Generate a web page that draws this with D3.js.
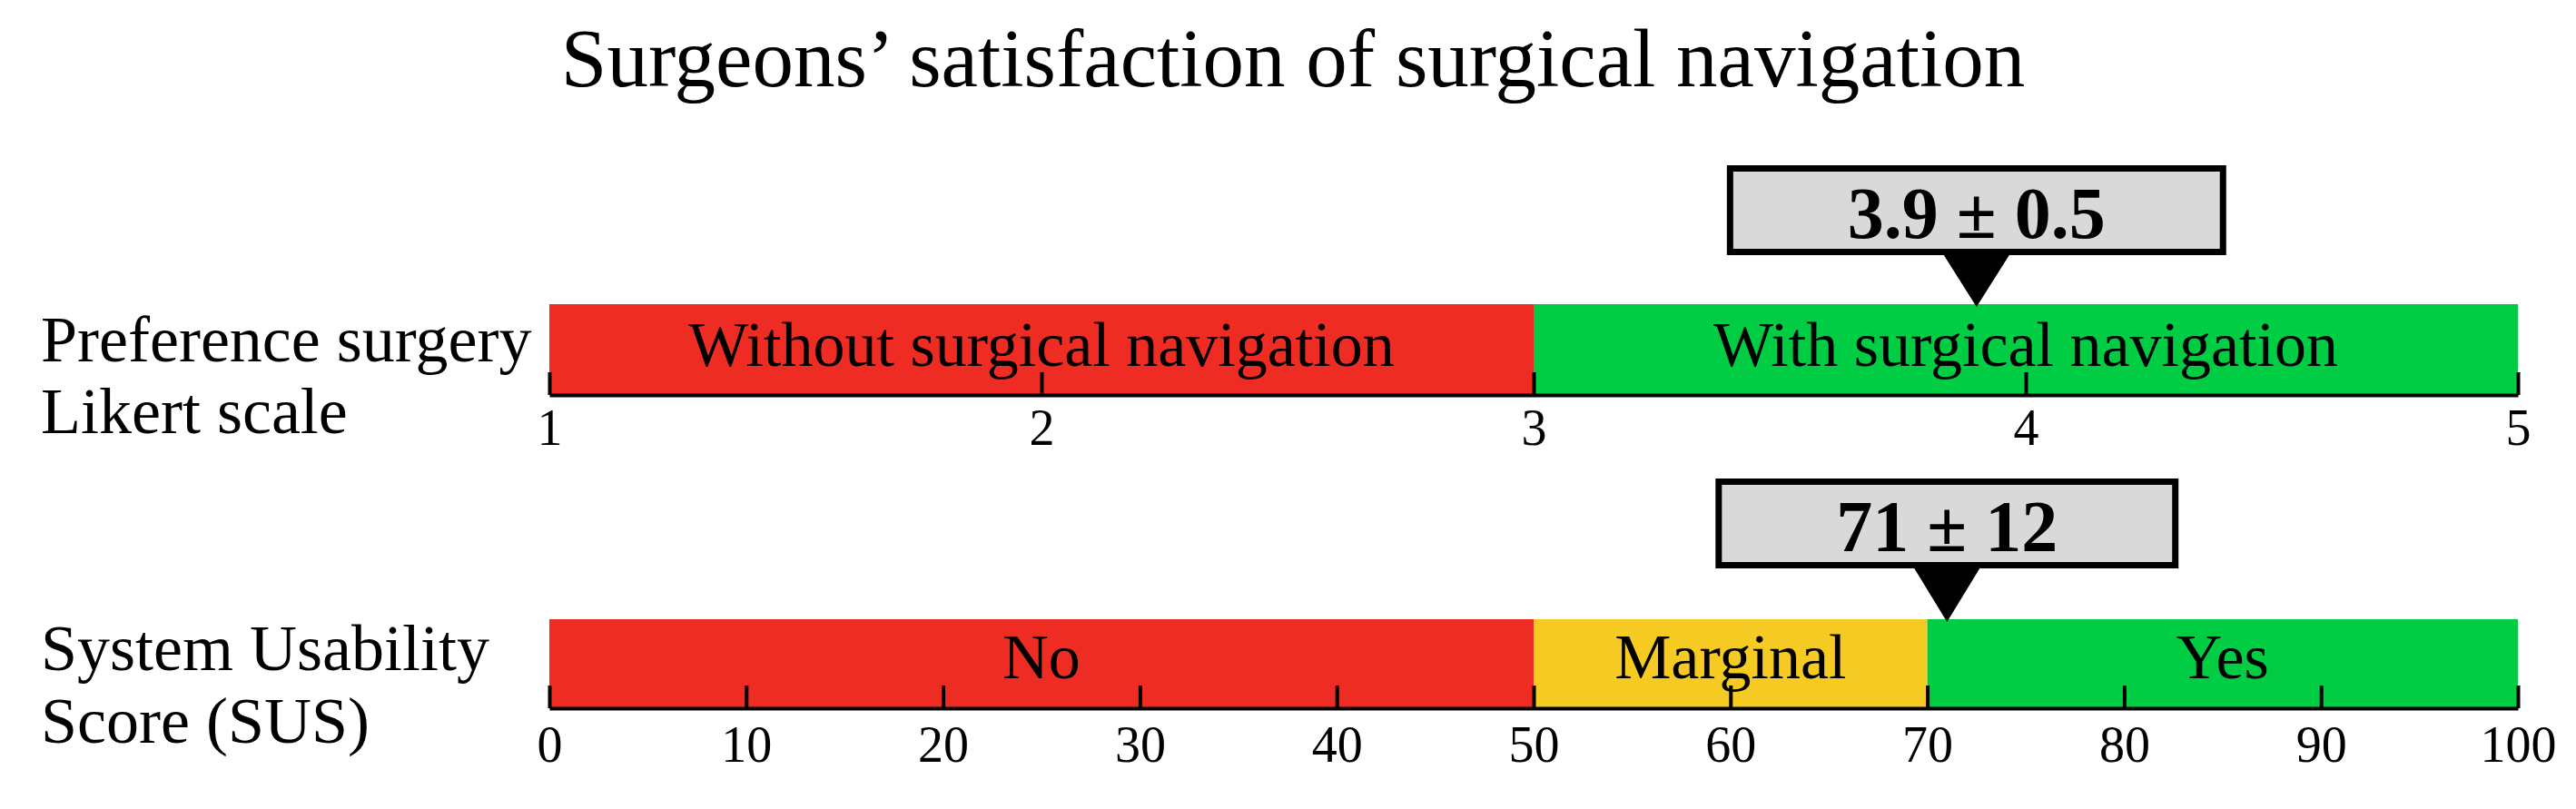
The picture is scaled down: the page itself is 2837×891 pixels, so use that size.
<!DOCTYPE html>
<html><head><meta charset="utf-8">
<script src="https://cdn.jsdelivr.net/npm/d3@7"></script>
<style>body{margin:0;background:#fff}svg{display:block}</style>
</head><body>
<svg id="chart" width="2837" height="891"></svg>
<script>
// ---- data ----
const titleText = "Surgeons’ satisfaction of surgical navigation";
const likertRowLabel = ["Preference surgery", "Likert scale"];
const susRowLabel = ["System Usability", "Score (SUS)"];

const likertCategories = ["Without surgical navigation", "With surgical navigation"];
const likertStarts = [1, 3];
const likertEnds = [3, 5];
const likertTicks = [1, 2, 3, 4, 5];
const likertMean = 3.9;
const likertSD = 0.5;

const susCategories = ["No", "Marginal", "Yes"];
const susStarts = [0, 50, 70];
const susEnds = [50, 70, 100];
const susTicks = [0, 10, 20, 30, 40, 50, 60, 70, 80, 90, 100];
const susMean = 71;
const susSD = 12;

// ---- style ----
const RED = "#EE2C24", GREEN = "#00CC44", YELLOW = "#F5CA22", BOXGRAY = "#D9D9D9";
const FONT = "'Liberation Serif', 'Times New Roman', serif";
const W = 2837, H = 891;
const svg = d3.select("#chart");
svg.append("rect").attr("width", W).attr("height", H).attr("fill", "#fff");

svg.append("text").attr("x", 1424).attr("y", 95)
  .attr("text-anchor", "middle").attr("font-family", FONT).attr("font-size", 91)
  .attr("fill", "#000").text(titleText);

const rows = [
  {
    label: likertRowLabel, labelBase: [398, 477],
    x: d3.scaleLinear().domain([1, 5]).range([605, 2773]),
    cats: likertCategories, starts: likertStarts, ends: likertEnds,
    colors: [RED, GREEN], ticks: likertTicks, mean: likertMean, sd: likertSD,
    barTop: 335, barBottom: 435, catBase: 403, boxTop: 182, pad: 15
  },
  {
    label: susRowLabel, labelBase: [738, 818],
    x: d3.scaleLinear().domain([0, 100]).range([605, 2773]),
    cats: susCategories, starts: susStarts, ends: susEnds,
    colors: [RED, YELLOW, GREEN], ticks: susTicks, mean: susMean, sd: susSD,
    barTop: 682, barBottom: 780, catBase: 747, boxTop: 527, pad: 19
  }
];

rows.forEach(r => {
  const g = svg.append("g");
  // row labels
  g.selectAll("text.rowlab").data(r.label).join("text")
    .attr("class", "rowlab")
    .attr("x", 45).attr("y", (d, i) => r.labelBase[i])
    .attr("font-family", FONT).attr("font-size", 72).attr("fill", "#000")
    .text(d => d);

  // segments
  const segs = r.cats.map((c, i) => ({ c, s: r.starts[i], e: r.ends[i], col: r.colors[i] }));
  g.selectAll("rect.seg").data(segs).join("rect")
    .attr("class", "seg")
    .attr("x", d => r.x(d.s)).attr("y", r.barTop)
    .attr("width", d => r.x(d.e) - r.x(d.s))
    .attr("height", r.barBottom - r.barTop)
    .attr("fill", d => d.col);

  g.selectAll("text.cat").data(segs).join("text")
    .attr("class", "cat")
    .attr("x", d => (r.x(d.s) + r.x(d.e)) / 2).attr("y", r.catBase)
    .attr("text-anchor", "middle")
    .attr("font-family", FONT).attr("font-size", 70).attr("fill", "#000")
    .text(d => d.c);

  // axis
  const ax = g.append("g").attr("transform", `translate(0,${r.barBottom})`)
    .call(d3.axisBottom(r.x).tickValues(r.ticks).tickFormat(d3.format("d"))
      .tickSizeInner(-25).tickSizeOuter(0).tickPadding(r.pad));
  ax.select(".domain").attr("stroke", "#000").attr("stroke-width", 4);
  ax.selectAll(".tick line").attr("stroke", "#000").attr("stroke-width", 4);
  ax.selectAll(".tick text").attr("font-family", FONT).attr("font-size", 56).attr("fill", "#000");

  // callout
  const cx = r.x(r.mean);
  const cg = g.append("g");
  const boxH = 99, sw = 7;
  const rect = cg.append("rect");
  const txt = cg.append("text")
    .attr("x", cx).attr("y", r.boxTop + 80)
    .attr("text-anchor", "middle").attr("font-family", FONT)
    .attr("font-weight", "bold").attr("font-size", 80).attr("fill", "#000")
    .text(`${r.mean} ± ${r.sd}`);
  const tw = txt.node().getComputedTextLength();
  const bw = tw + 266;
  rect.attr("x", cx - bw / 2 + sw / 2).attr("y", r.boxTop + sw / 2)
    .attr("width", bw - sw).attr("height", boxH - sw)
    .attr("fill", BOXGRAY).attr("stroke", "#000").attr("stroke-width", sw);
  cg.append("path")
    .attr("d", `M${cx - 36},${r.boxTop + boxH} L${cx + 36},${r.boxTop + boxH} L${cx},${r.barTop + 3} Z`)
    .attr("fill", "#000");
});
</script>
</body></html>
